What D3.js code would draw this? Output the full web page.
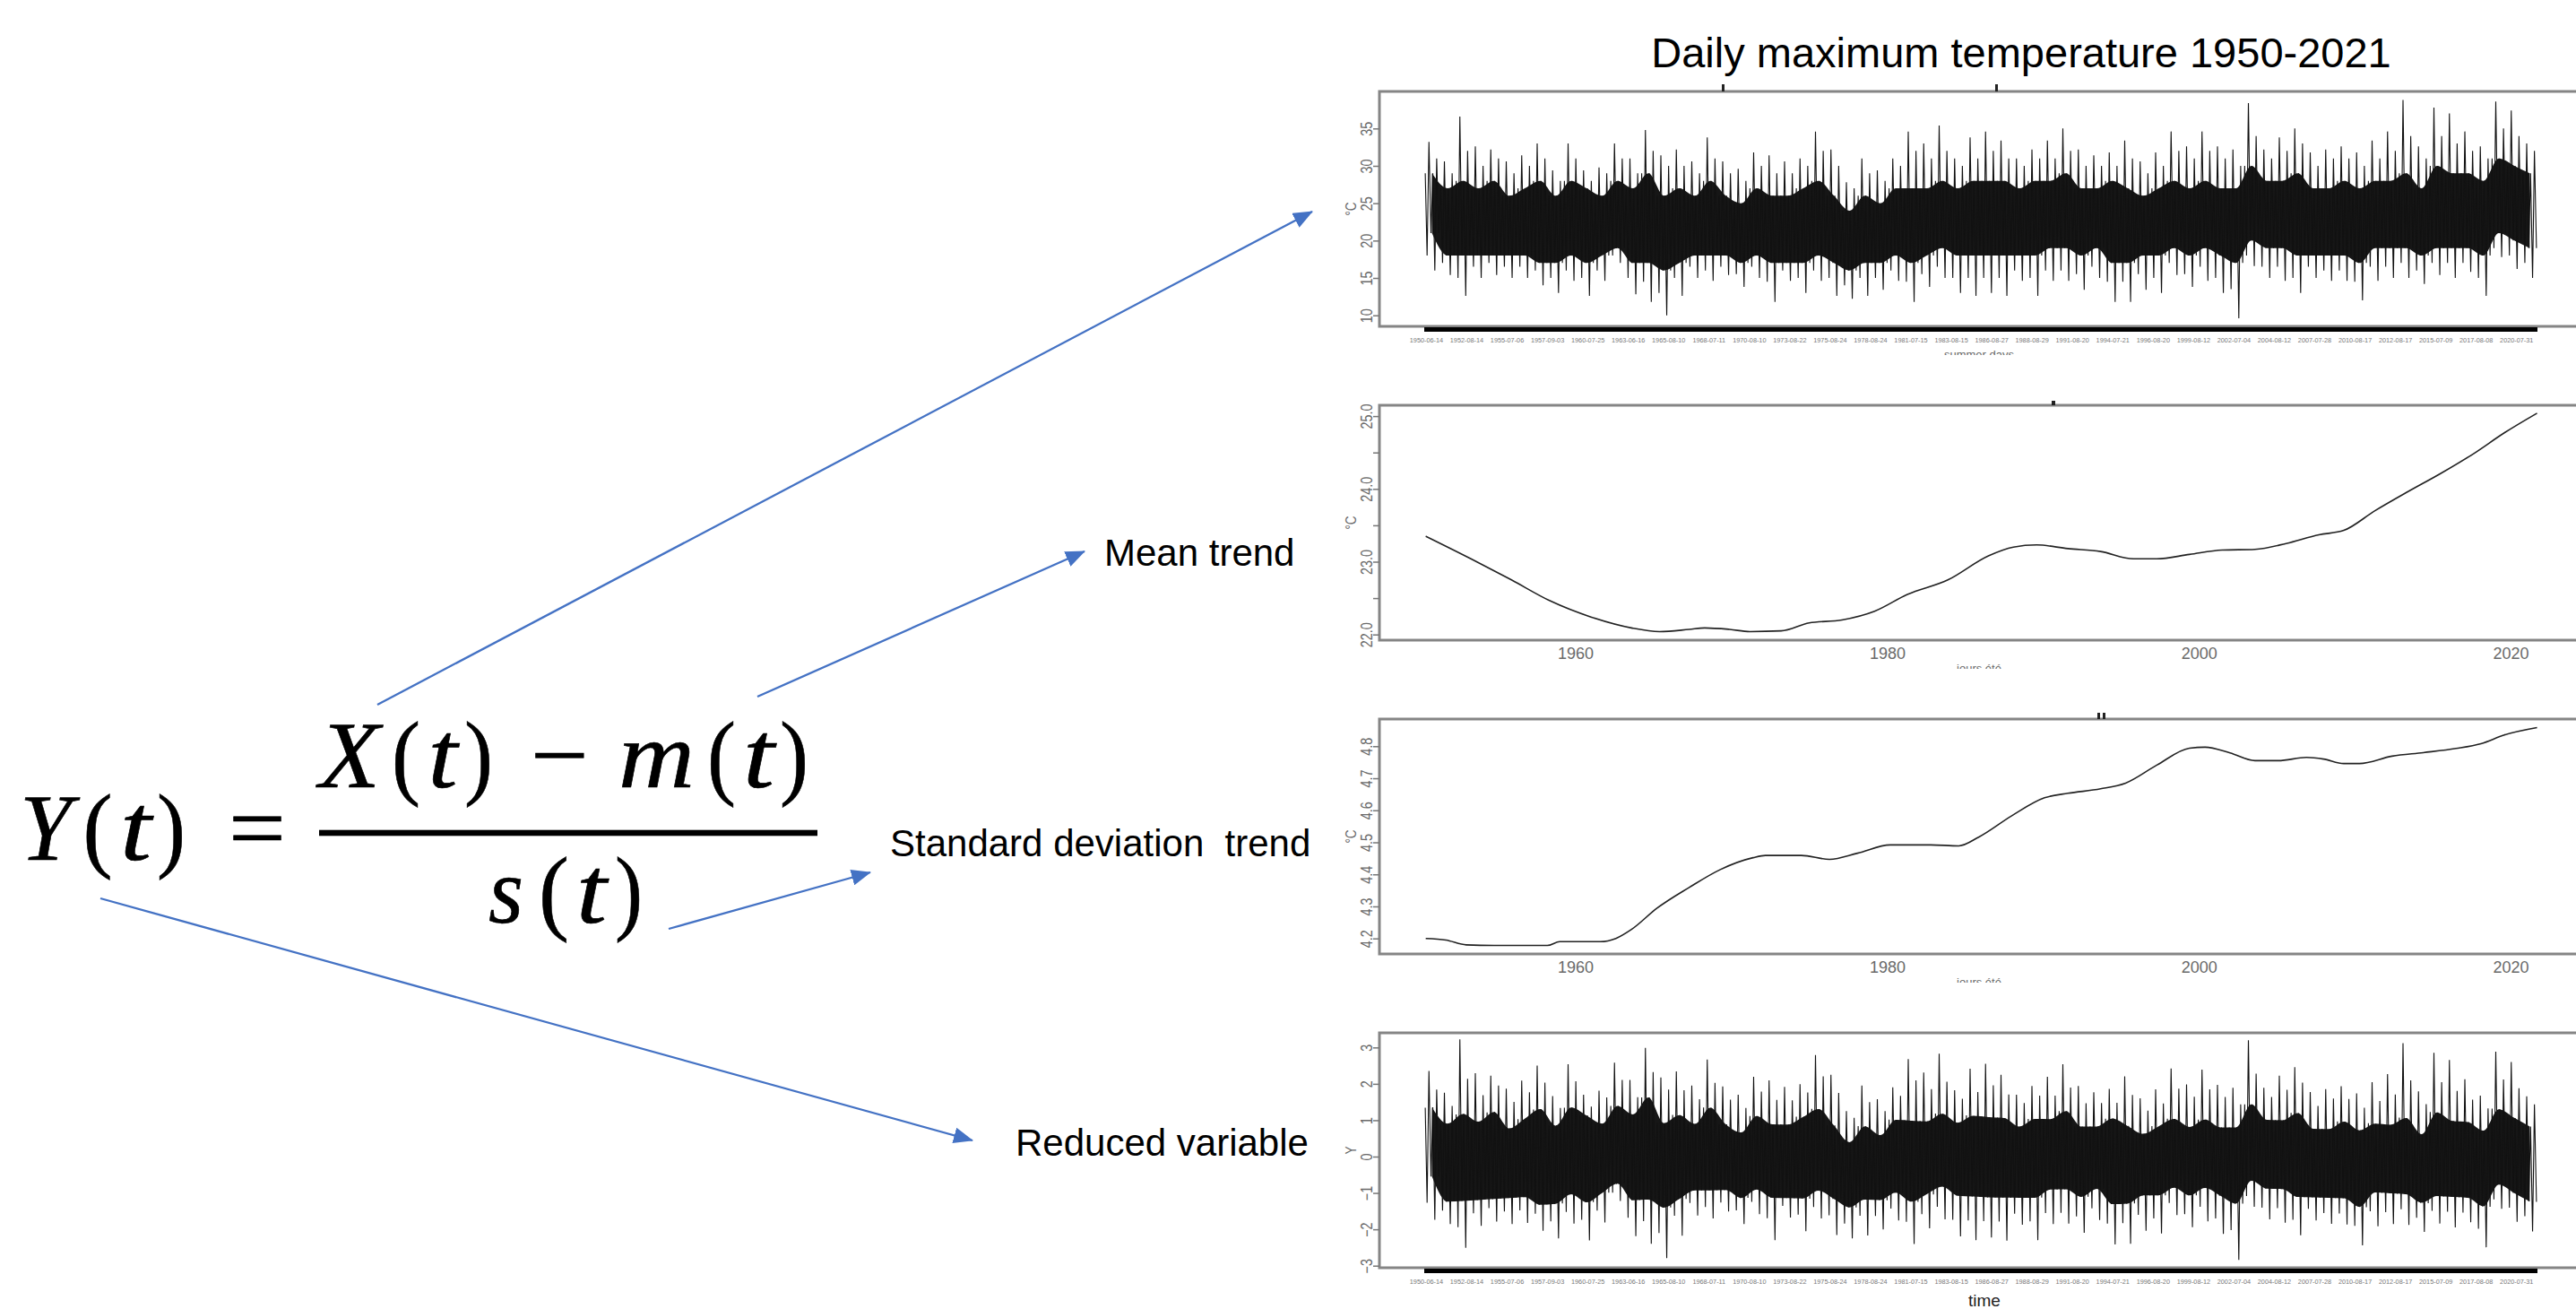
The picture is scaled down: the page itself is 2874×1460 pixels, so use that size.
<!DOCTYPE html>
<html><head><meta charset="utf-8">
<script src="https://cdn.jsdelivr.net/npm/d3@7"></script>
<style>html,body{margin:0;padding:0;background:#fff;overflow:hidden}svg{display:block}</style>
</head><body>
<svg id="c" width="2874" height="1460"></svg>
<script>
// ---------------- DATA ----------------
const years = d3.range(1950, 2022);
// daily max temperature per summer: highest spike, second spike, lowest spike, second low, dense core band (°C)
const tmaxHigh = [33.2,30.6,36.6,32.6,32.2,30.6,31.4,33,29.4,33,
 29.4,29.8,33,31,34.8,31.4,32.2,30.6,33.8,30.6,
 29.6,31.8,31.4,30.6,31,34.6,32.2,27.8,31,29.4,
 31,34.6,33,35.4,31,33.8,34.6,33.4,31,32.2,
 33.4,35,32.2,31.4,31.8,33.4,30.6,31.8,34.6,32.6,
 34.6,32.6,32.2,38.4,32.2,33.8,35,31.8,32.2,32.6,
 31.8,33.4,34.6,38.8,32.6,37.8,37,34.6,32.6,38.6,
 37.4,33];
const tmaxHigh2 = [31,29,32,30,31,29,30,31,28,31,
 28,29,31,29,32,30,30,29,31,29,
 28,30,29,29,30,32,30,27,29,28,
 30,32,31,32,30,31,32,31,30,31,
 31,32,30,30,30,31,29,30,32,31,
 32,31,30,34,31,32,33,30,31,31,
 30,31,32,34,31,34,33,32,31,35,
 34,32];
const tmaxLow = [16,15.4,12.6,15,15.4,15,15,14,13,14.6,
 12.6,14.6,17,12.8,11.8,10,12.6,15,14.6,15.4,
 13.8,15,11.8,14.6,13,14.6,12.6,12.2,12.6,13.4,
 14.6,11.8,13.8,15,13,12.6,13,12.6,14.6,12.6,
 14.6,14.6,13.4,15,11.8,11.8,13.4,13,15.4,13.8,
 14.6,13,9.6,16.6,15,14.6,13,15,14.6,14.6,
 12,14.6,15,15,14.2,15.4,15,15.8,12.6,17.8,
 16.2,15];
const tmaxLow2 = [18,17,15,16.5,17,16.5,16.5,16,15,16,
 15,16,18,15,14.5,13,15,16.5,16,16.5,
 15.5,16.5,14.5,16,15,16,15,14,15,15,
 16,14.5,15.5,16.5,15,15,15,15,16,15,
 16,16,15.5,16.5,14.5,14.5,15.5,15,17,15.5,
 16.5,15,13.5,18,16.5,16.5,15,16.5,16,16,
 14.5,16.5,16.5,17,16,17,17,17,15,19,
 18,17];
const tmaxCoreTop = [29,27,28,27,28,26,27,28,26,28,
 27,26,28,27,29,26,27,26,28,26,
 25,27,26,26,27,28,26,24,26,25,
 27,27,27,28,27,28,28,28,27,28,
 28,29,27,27,28,27,26,27,28,27,
 28,27,27,30,28,28,29,27,27,28,
 27,28,28,29,27,30,29,29,28,31,
 30,29];
const tmaxCoreBottom = [21,18,18,18,18,18,18,17,17,18,
 17,18,19,17,17,16,17,18,18,18,
 17,18,17,17,17,18,17,16,17,17,
 18,17,18,19,18,18,18,18,18,18,
 19,19,18,19,17,17,18,18,19,18,
 19,18,17,20,19,19,18,18,18,18,
 17,19,19,19,18,19,19,19,18,21,
 20,19];
// mean trend m(t)
const meanYears = [1950.4,1953.3,1955.9,1958.4,1961,1963.6,1965.4,1967.3,1968.3,1969.9,1971.2,1973.2,1975,1977.1,1979.2,1981.3,1983.9,1986.5,1988.1,1989.6,1991.6,1993.7,1995.8,1997.3,1999.4,2001.5,2003.6,2005.6,2007.7,2009.3,2011.3,2013.4,2015.5,2017.6,2019.6,2021.7];
const meanValues = [23.35,23.04,22.75,22.46,22.24,22.09,22.04,22.07,22.09,22.07,22.04,22.05,22.16,22.2,22.32,22.55,22.75,23.08,23.2,23.23,23.18,23.14,23.04,23.04,23.1,23.16,23.17,23.25,23.37,23.43,23.7,23.96,24.21,24.48,24.77,25.04];
// standard deviation trend s(t)
const sdYears = [1950.4,1951.7,1953,1954.8,1958.2,1959,1961.6,1962.6,1963.6,1965.2,1967.3,1969.3,1971.4,1972.2,1974.5,1976.3,1978.1,1980.2,1982.8,1984.6,1985.9,1988,1990.1,1991.6,1993.7,1995.3,1997.3,1999.4,2000.4,2002,2003.6,2005.1,2006.9,2008,2009.3,2010.3,2012.4,2014.4,2016.5,2018.1,2019.6,2021.7];
const sdValues = [4.2,4.195,4.18,4.178,4.178,4.19,4.19,4.2,4.228,4.293,4.359,4.415,4.452,4.459,4.459,4.447,4.466,4.492,4.492,4.489,4.517,4.583,4.639,4.653,4.667,4.685,4.741,4.794,4.797,4.779,4.755,4.755,4.765,4.76,4.746,4.746,4.769,4.78,4.793,4.808,4.835,4.858];
// tick labels
const dateTickLabels = ["1950-06-14","1952-08-14","1955-07-06","1957-09-03","1960-07-25","1963-06-16","1965-08-10","1968-07-11","1970-08-10","1973-08-22","1975-08-24","1978-08-24","1981-07-15","1983-08-15","1986-08-27","1988-08-29","1991-08-20","1994-07-21","1996-08-20","1999-08-12","2002-07-04","2004-08-12","2007-07-28","2010-08-17","2012-08-17","2015-07-09","2017-08-08","2020-07-31"];
const tempTicks = [10,15,20,25,30,35];
const meanTicks = [22,22.5,23,23.5,24,24.5,25];
const sdTicks = [4.2,4.3,4.4,4.5,4.6,4.7,4.8];
const reducedTicks = [-3,-2,-1,0,1,2,3];
const yearTicks = [1960,1980,2000,2020];
const DAYS_PER_SUMMER = 92;

// ---------------- LAYOUT ----------------
const svg = d3.select('#c');
svg.append('rect').attr('width',2874).attr('height',1460).attr('fill','#fff');
const SANS = 'Liberation Sans, Arial, Helvetica, sans-serif';
const BLUE = '#4472C4';
const GRAY_T = '#6a6a6a', GRAY_F = '#858585';
const FL = 1539, FR = 2890;
const P = [{top:102,bottom:364},{top:452,bottom:714},{top:802,bottom:1064},{top:1152,bottom:1414}];

const defs = svg.append('defs');
defs.append('marker').attr('id','ah').attr('viewBox','0 0 22 18').attr('refX',21).attr('refY',9)
  .attr('markerWidth',22).attr('markerHeight',18).attr('markerUnits','userSpaceOnUse').attr('orient','auto')
  .append('path').attr('d','M0,0L22,9L0,18Z').attr('fill',BLUE);

const nObs = years.length*DAYS_PER_SUMMER;
const xObs = d3.scaleLinear().domain([0,nObs]).range([1589,2831]);
const xYear = d3.scaleLinear().domain([1960,2020]).range([1757.6,2801]);
const y1 = d3.scaleLinear().domain([10,35]).range([351.7,143.3]);
const y2 = d3.scaleLinear().domain([22,25]).range([707.7,464.1]);
const y3 = d3.scaleLinear().domain([4.2,4.8]).range([1046.7,832.3]);
const y4 = d3.scaleLinear().domain([-3,3]).range([1411.7,1168.3]);
const mAt = d3.scaleLinear().domain(meanYears).range(meanValues).clamp(true);
const sAt = d3.scaleLinear().domain(sdYears).range(sdValues).clamp(true);

// title
svg.append('text').attr('x',2255).attr('y',75).attr('text-anchor','middle')
  .attr('font-family',SANS).attr('font-size',47).attr('fill','#000')
  .text('Daily maximum temperature 1950-2021');

// frames
P.forEach(p=>{
  svg.append('rect').attr('x',FL).attr('y',p.top).attr('width',FR-FL).attr('height',p.bottom-p.top)
    .attr('fill','#fff').attr('stroke',GRAY_F).attr('stroke-width',3);
});
// remnants of cropped titles above the frames
[[1921,94,3,8],[2226,94,3,8],[2289,447,4,5],[2340,795,3,7],[2346,795,3,7]].forEach(r=>{
  svg.append('rect').attr('x',r[0]).attr('y',r[1]).attr('width',r[2]).attr('height',r[3]).attr('fill','#222');
});

function yAxis(scale, ticks, fmt, label, top, bottom){
  const g = svg.append('g').attr('transform',`translate(${FL},0)`)
    .call(d3.axisLeft(scale).tickValues(ticks).tickSize(7).tickFormat(fmt));
  g.select('.domain').remove();
  g.selectAll('line').attr('stroke','#777').attr('stroke-width',1.5);
  g.selectAll('text').attr('x',null).attr('dy',null)
    .attr('transform','translate(-8,0) rotate(-90) scale(0.8,1)')
    .attr('text-anchor','middle').attr('font-family',SANS).attr('font-size',18).attr('fill',GRAY_T);
  svg.append('text').attr('transform',`translate(1513,${(top+bottom)/2}) rotate(-90) scale(0.8,1)`)
    .attr('text-anchor','middle').attr('font-family',SANS).attr('font-size',17).attr('fill',GRAY_T).text(label);
}
function yearAxis(top,bottom){
  const g = svg.append('g').attr('transform',`translate(0,${bottom})`)
    .call(d3.axisBottom(xYear).tickValues(yearTicks).tickSize(0).tickPadding(8).tickFormat(d3.format('d')));
  g.select('.domain').remove();
  g.selectAll('text').attr('font-family',SANS).attr('font-size',18).attr('fill',GRAY_T);
}
function clippedLabel(id, txt, x, y, clipY, size){
  defs.append('clipPath').attr('id',id).append('rect').attr('x',0).attr('y',0).attr('width',2874).attr('height',clipY);
  svg.append('text').attr('clip-path',`url(#${id})`).attr('x',x).attr('y',y).attr('text-anchor','middle')
    .attr('font-family',SANS).attr('font-size',size).attr('fill',GRAY_T).text(txt);
}
function dateAxis(bottom, labelY){
  svg.append('rect').attr('x',xObs(0)).attr('y',bottom+1).attr('width',xObs(nObs)-xObs(0)).attr('height',5).attr('fill','#000');
  const step = (6500-13)/(dateTickLabels.length-1);
  svg.append('g').selectAll('text').data(dateTickLabels).join('text')
    .attr('x',(d,i)=>xObs(13+i*step)).attr('y',labelY).attr('text-anchor','middle')
    .attr('font-family',SANS).attr('font-size',7.3).attr('fill','#777').text(d=>d);
}

// ---------- noisy series: X(t) ----------
// within each summer the trace visits the core band and its four extreme spikes
const tmaxPts = [];
const offsets = [6,17,28,40,51,63,74,86];
years.forEach((yr,i)=>{
  const seq = [tmaxCoreTop[i], tmaxLow2[i], tmaxHigh[i], tmaxCoreBottom[i],
               tmaxCoreTop[i], tmaxLow[i], tmaxHigh2[i], tmaxCoreBottom[i]];
  seq.forEach((v,k)=>tmaxPts.push({obs:i*DAYS_PER_SUMMER+offsets[k], v}));
});
const core = years.map((yr,i)=>({obs:i*DAYS_PER_SUMMER+46, hi:tmaxCoreTop[i], lo:tmaxCoreBottom[i]}));
function noisePanel(yScale, tf){
  svg.append('path').datum(core)
    .attr('d', d3.area().x(d=>xObs(d.obs)).y0(d=>yScale(tf(d.lo,d.obs))).y1(d=>yScale(tf(d.hi,d.obs))).curve(d3.curveMonotoneX))
    .attr('fill','#161616');
  svg.append('path').datum(tmaxPts)
    .attr('d', d3.line().x(d=>xObs(d.obs)).y(d=>yScale(tf(d.v,d.obs))))
    .attr('fill','none').attr('stroke','#111').attr('stroke-width',1.1).attr('stroke-linejoin','bevel');
}
noisePanel(y1, v=>v);
yAxis(y1, tempTicks, d3.format('d'), '°C', P[0].top, P[0].bottom);
dateAxis(P[0].bottom, 381.5);
clippedLabel('cl1','summer days',2208,400,396,13);

// ---------- Panel 2: m(t) ----------
const meanData = meanYears.map((y,i)=>({y, v:meanValues[i]}));
svg.append('path').datum(meanData)
  .attr('d', d3.line().x(d=>xYear(d.y)).y(d=>y2(d.v)).curve(d3.curveMonotoneX))
  .attr('fill','none').attr('stroke','#222').attr('stroke-width',1.6);
yAxis(y2, meanTicks, d=>Number.isInteger(d)? d.toFixed(1):'', '°C', P[1].top, P[1].bottom);
yearAxis(P[1].top, P[1].bottom);
clippedLabel('cl2','jours été',2208,750,746,13);

// ---------- Panel 3: s(t) ----------
const sdData = sdYears.map((y,i)=>({y, v:sdValues[i]}));
svg.append('path').datum(sdData)
  .attr('d', d3.line().x(d=>xYear(d.y)).y(d=>y3(d.v)).curve(d3.curveMonotoneX))
  .attr('fill','none').attr('stroke','#222').attr('stroke-width',1.6);
yAxis(y3, sdTicks, d3.format('.1f'), '°C', P[2].top, P[2].bottom);
yearAxis(P[2].top, P[2].bottom);
clippedLabel('cl3','jours été',2208,1100,1096,13);

// ---------- Panel 4: Y(t) = (X(t) - m(t)) / s(t) ----------
const reduce = (v,obs)=>{ const yr = xYear.invert(xObs(obs)); return (v - mAt(yr))/sAt(yr); };
noisePanel(y4, reduce);
yAxis(y4, reducedTicks, d3.format('d'), 'Y', P[3].top, P[3].bottom);
dateAxis(P[3].bottom, 1432);
svg.append('text').attr('x',2214).attr('y',1457).attr('text-anchor','middle')
  .attr('font-family',SANS).attr('font-size',19).attr('fill','#222').text('time');

// ---------- labels ----------
const lab = (t,x,y)=>svg.append('text').attr('x',x).attr('y',y).attr('font-family',SANS).attr('font-size',42)
  .attr('fill','#000').style('white-space','pre').text(t);
lab('Mean trend',1232,631);
lab('Standard deviation  trend',993,955);
lab('Reduced variable',1133,1289);

// ---------- arrows ----------
[[421,786,1464,236],[845,777,1210,615],[746,1036,971,973],[112,1002,1085,1272]].forEach(a=>{
  svg.append('line').attr('x1',a[0]).attr('y1',a[1]).attr('x2',a[2]).attr('y2',a[3])
    .attr('stroke',BLUE).attr('stroke-width',2.3).attr('marker-end','url(#ah)');
});

// ---------- formula ----------
const SERIF = 'Liberation Serif, Times New Roman, serif';
const formulaGlyphs = [
 {t:'Y',cx:51,w:58,b:959,it:1},{t:'(',cx:109,w:33,b:959},{t:'t',cx:151.5,w:35,b:959,it:1},{t:')',cx:191,w:32,b:959},
 {t:'=',cx:287,w:64,b:959},
 {t:'X',cx:390,w:68,b:878,it:1},{t:'(',cx:453,w:32,b:878},{t:'t',cx:494,w:33,b:878,it:1},{t:')',cx:534,w:32,b:878},
 {t:'−',cx:624.5,w:65,b:878},
 {t:'m',cx:732.5,w:85,b:878,it:1},{t:'(',cx:805,w:32,b:878},{t:'t',cx:846.5,w:35,b:878,it:1},{t:')',cx:886,w:32,b:878},
 {t:'s',cx:564.5,w:39,b:1029,it:1},{t:'(',cx:618,w:34,b:1029},{t:'t',cx:660,w:34,b:1029,it:1},{t:')',cx:701.5,w:31,b:1029}
];
svg.append('g').selectAll('text').data(formulaGlyphs).join('text')
  .attr('x',d=>d.cx).attr('y',d=>d.b).attr('text-anchor','middle')
  .attr('font-family',SERIF).attr('font-size',106).attr('font-style',d=>d.it?'italic':'normal')
  .attr('textLength',d=>d.w).attr('lengthAdjust','spacingAndGlyphs')
  .attr('fill','#000').attr('stroke','#000').attr('stroke-width',0.6).text(d=>d.t);
svg.append('rect').attr('x',356).attr('y',925.7).attr('width',556).attr('height',6.6).attr('fill','#000');
</script>
</body></html>
